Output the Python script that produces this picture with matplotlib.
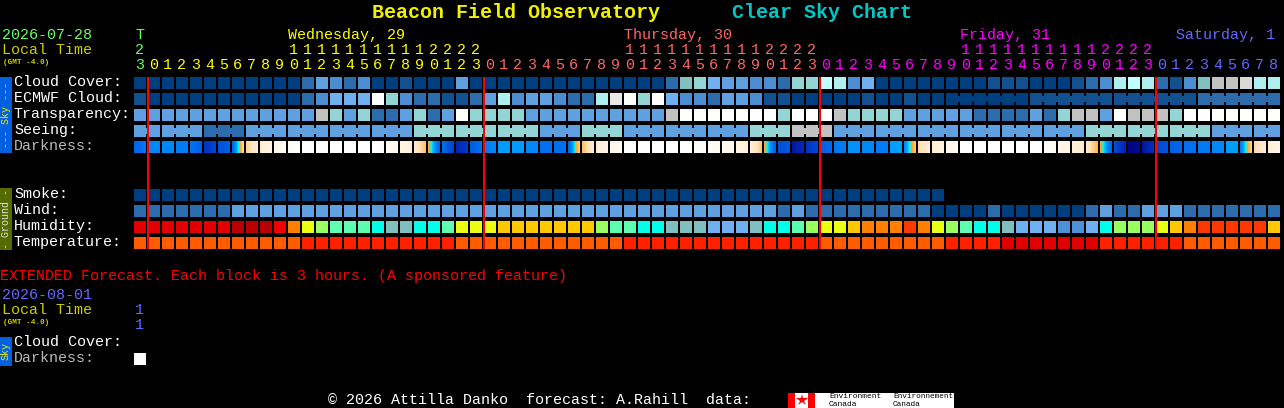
import matplotlib
matplotlib.use("Agg")
import matplotlib.pyplot as plt
import numpy as np
from matplotlib.colors import LinearSegmentedColormap

MONO = ["Liberation Mono", "DejaVu Sans Mono"]

# colour tables, rows below are indexes into these
sky_colors = ["#003f7f", "#13508f", "#2c6cac", "#4c8cd0", "#5fa0e0", "#70b0f0", "#80c0c0",
              "#93d5d5", "#aeeeee", "#bfffff", "#c2c2c2", "#d8d8d8", "#e8e8e8", "#ffffff"]
hum_colors = ["#b80000", "#e00000", "#f00000", "#ff3800", "#ff8000", "#ffc800", "#eaff14",
              "#99ff60", "#5cffb0", "#00ffe8", "#80bfbf", "#70b0f0", "#4d90d8"]
temp_colors = ["#e00000", "#ff2000", "#ff5c00"]

cloud = [0,0,0,0,0,0,0,0,0,0,0,0,2,4,3,2,3,0,0,1,0,
         0,0,4,0,0,0,0,0,0,0,0,0,0,0,0,0,0,2,6,7,5,4,4,3,3,2,7,7,9,8,3,
         5,0,0,0,0,0,0,0,0,1,1,1,0,0,0,1,2,3,8,9,8,2,1,3,6,10,10,11,8,8]
ecmwf = [1,0,0,0,0,0,0,0,0,0,0,0,2,3,5,5,5,13,7,3,2,
         2,1,1,2,4,8,3,4,4,3,2,2,8,12,13,7,13,5,3,3,2,4,4,3,1,1,0,0,0,0,0,
         1,0,0,1,0,0,0,0,0,0,0,0,1,1,1,1,1,1,1,1,1,1,1,1,2,2,2,2,2,2]
transparency = [4,4,4,4,4,4,4,4,4,4,4,4,4,10,7,4,7,2,2,4,7,
                2,4,13,7,7,7,7,4,4,4,4,4,4,4,4,4,4,10,13,13,13,13,13,13,13,7,13,13,13,10,7,
                7,7,7,4,4,4,4,4,2,2,2,2,4,2,7,10,10,4,13,10,10,10,7,13,13,13,13,13,13,13]
seeing = [4,4,4,4,4,2,2,2,4,4,4,4,4,4,4,4,4,4,4,4,7,7,7,7,7,7,7,7,7,4,4,4,7,7,7,4,4,4,
          4,4,4,4,4,4,7,7,7,10,10,10,4,4,4,4,4,4,4,4,4,4,4,4,4,4,4,4,4,4,
          7,7,7,7,7,7,7,7,7,4,4,4,4,4]
smoke = [0] * 58
wind = [2,2,2,2,2,2,2,4,4,4,4,4,4,4,4,4,4,4,4,4,4,
        4,4,4,4,4,4,4,4,4,4,4,4,4,4,4,4,4,4,4,4,4,4,4,4,4,2,4,2,2,2,2,
        2,2,2,2,2,0,0,0,0,2,0,0,0,0,0,0,2,4,2,2,4,4,4,2,2,2,2,2,2,2]
humidity = [1,1,1,1,1,1,1,0,0,0,2,4,6,7,8,8,8,9,10,10,9,
            9,8,6,6,6,5,5,5,5,5,5,5,7,8,8,9,9,10,10,10,11,11,11,10,9,9,8,7,6,6,5,
            4,4,4,3,4,6,7,8,9,9,10,11,11,11,12,12,11,9,7,7,7,6,5,4,3,3,3,3,3,5]
temperature = [2]*12 + [1]*11 + [2]*12 + [1]*14 + [2]*9 + [1]*4 + [0]*7 + [1]*6 + [2]*7

dark_left = [.42,.5,.5,.48,.46,.26,.36,.42,.76,.87,.93,.98,1,1,1,1,1,1,.97,.93,.85,
             .68,.45,.2,.38,.47,.54,.54,.5,.45,.45,.42,.72,.87,.93,1,1,1,1,1,.99,.98,.96,.92,.88,
             .68,.35,.12,.26,.4,.46,.52,.5,.48,.55,.5,.78,.87,.93,1,1,1,1,1,1,.99,.95,.9,.84,
             .68,.35,.02,.12,.33,.4,.45,.47,.5,.55,.48,.78,.88]
dark_right = [.47,.5,.5,.48,.40,.32,.4,.78,.86,.92,.97,1,1,1,1,1,1,.98,.94,.88,.72,
              .42,.3,.28,.46,.5,.54,.54,.5,.45,.45,.76,.86,.93,.98,1,1,1,1,1,.98,.96,.93,.88,.74,
              .4,.38,.22,.33,.43,.48,.52,.5,.48,.55,.74,.86,.92,.98,1,1,1,1,1,1,.97,.91,.85,.7,
              .42,.2,.05,.25,.36,.42,.45,.47,.5,.55,.76,.87,.93]
dark_stops = [(0, "#000080"), (.25, "#0030c0"), (.45, "#0070f0"), (.55, "#00a0ff"),
              (.62, "#00ffff"), (.66, "#ffa020"), (.8, "#ffe4bc"), (1, "#ffffff")]

# (first column, last column) of blocks joined by a bridge
seeing_groups = [(0, 1)] + [(i, i + 2) for i in range(2, 80, 3)] + [(80, 81)]
ecmwf_groups = [(58, 63), (64, 69), (70, 75), (76, 81)]

hours = [3] + list(range(24)) * 3 + list(range(9))
tens_labels = [1] * 10 + [2] * 4
now_lines = [147, 483, 819, 1155]

day_color = {"wed": "#ffff00", "thu": "#ff6666", "fri": "#ff00ff", "sat": "#6666ff"}
GREEN = "#66ff66"
LOCAL = "#cccc00"

X0, STEP, SIZE = 134, 14, 12


def draw_row(ax, codes, colors, top):
    xs = [X0 + STEP * i for i in range(len(codes))]
    ax.bar(xs, [SIZE] * len(codes), width=SIZE, bottom=top, align="edge",
           color=[colors[c] for c in codes], linewidth=0)


def draw_bridges(ax, codes, colors, top, groups):
    for first, last in groups:
        for i in range(first, last):
            ax.bar(X0 + STEP * i + SIZE, 6, width=2, bottom=top + 3, align="edge",
                   color=colors[codes[i]], linewidth=0)


def txt(ax, x, y, s, color="#ffffff", size=10.8, **kw):
    kw.setdefault("family", MONO)
    ax.text(x, y, s, color=color, fontsize=size, va="center", ha=kw.pop("ha", "left"), **kw)


fig = plt.figure(figsize=(12.84, 4.08), dpi=100, facecolor="black")
ax = fig.add_axes([0, 0, 1, 1])
ax.set_facecolor("black")
ax.axis("off")

txt(ax, 372, 12, "Beacon Field Observatory", "#f0f000", 14.4, weight="bold")
txt(ax, 732, 12, "Clear Sky Chart", "#00c8c8", 14.4, weight="bold")

txt(ax, 2, 35, "2026-07-28", GREEN)
txt(ax, 2, 50, "Local Time", LOCAL)
txt(ax, 3, 62, "(GMT -4.0)", LOCAL, 5.6, weight="bold")
txt(ax, 135, 35, "T", GREEN)
txt(ax, 135, 50, "2", GREEN)
txt(ax, 288, 35, "Wednesday, 29", day_color["wed"])
txt(ax, 624, 35, "Thursday, 30", day_color["thu"])
txt(ax, 960, 35, "Friday, 31", day_color["fri"])
txt(ax, 1176, 35, "Saturday, 1", day_color["sat"])

# hour header
for i, h in enumerate(hours):
    if i == 0:
        c = GREEN
    elif i <= 24:
        c = day_color["wed"]
    elif i <= 48:
        c = day_color["thu"]
    elif i <= 72:
        c = day_color["fri"]
    else:
        c = day_color["sat"]
    txt(ax, X0 + STEP * i + 5.5, 65, str(h % 10), c, ha="center")
for start, c in [(11, "wed"), (35, "thu"), (59, "fri")]:
    for k, t in enumerate(tens_labels):
        txt(ax, X0 + STEP * (start + k) + 5.5, 50, str(t), day_color[c], ha="center")

# sky rows
draw_row(ax, cloud, sky_colors, 77)
draw_row(ax, ecmwf, sky_colors, 93)
draw_bridges(ax, ecmwf, sky_colors, 93, ecmwf_groups)
draw_row(ax, transparency, sky_colors, 109)
draw_row(ax, seeing, sky_colors, 125)
draw_bridges(ax, seeing, sky_colors, 125, seeing_groups)

dark_cmap = LinearSegmentedColormap.from_list("dark", dark_stops)
for i, (a, b) in enumerate(zip(dark_left, dark_right)):
    left = X0 + STEP * i
    ax.imshow(np.linspace(a, b, SIZE).reshape(1, -1), cmap=dark_cmap, vmin=0, vmax=1,
              interpolation="nearest", extent=(left, left + SIZE, 153, 141), aspect="auto")

# ground rows
draw_row(ax, smoke, sky_colors, 189)
draw_row(ax, wind, sky_colors, 205)
draw_row(ax, humidity, hum_colors, 221)
draw_row(ax, temperature, temp_colors, 237)

for x in now_lines:
    ax.bar(x, 172, width=2, bottom=77, align="edge", color="#ff0000", linewidth=0, zorder=3)

for y, s, c in [(82, "Cloud Cover:", "#ffffff"), (98, "ECMWF Cloud:", "#ffffff"),
                (114, "Transparency:", "#ffffff"), (130, "Seeing:", "#ffffff"),
                (146, "Darkness:", "#b8b8b8"), (194, "Smoke:", "#ffffff"),
                (210, "Wind:", "#ffffff"), (226, "Humidity:", "#ffffff"),
                (242, "Temperature:", "#ffffff")]:
    txt(ax, 14, y, s, c)

# side bars
ax.bar(0, 76, width=12, bottom=77, align="edge", color="#0060e0", linewidth=0)
ax.bar(0, 62, width=12, bottom=188, align="edge", color="#556b00", linewidth=0)
ax.text(6, 115, "--- Sky ---", color="#f0f000", fontsize=7.2, rotation=90,
        ha="center", va="center", family=MONO)
ax.text(6, 219, "- Ground -", color="#e0e0e0", fontsize=7.2, rotation=90,
        ha="center", va="center", family=MONO)

# extended forecast
txt(ax, 0, 276, "EXTENDED Forecast. Each block is 3 hours. (A sponsored feature)", "#ff0000")
txt(ax, 2, 295, "2026-08-01", day_color["sat"])
txt(ax, 2, 310, "Local Time", LOCAL)
txt(ax, 3, 322, "(GMT -4.0)", LOCAL, 5.6, weight="bold")
txt(ax, 135, 310, "1", day_color["sat"])
txt(ax, 135, 325, "1", day_color["sat"])
txt(ax, 14, 342, "Cloud Cover:")
txt(ax, 14, 358, "Darkness:", "#b8b8b8")
ax.bar(0, 29, width=12, bottom=337, align="edge", color="#0060e0", linewidth=0)
ax.text(6, 351, "Sky", color="#f0f000", fontsize=7.2, rotation=90, ha="center", va="center", family=MONO)
ax.bar(X0, 12, width=SIZE, bottom=353, align="edge", color="#ffffff", linewidth=0)

# footer
txt(ax, 328, 400, "\u00a9 2026 Attilla Danko  forecast: A.Rahill  data:")
ax.bar(788, 15, width=166, bottom=393, align="edge", color="#ffffff", linewidth=0)
ax.bar([788, 808], [15, 15], width=7, bottom=393, align="edge", color="#ff0000", linewidth=0)
ax.plot([801.5], [400], marker="*", ms=9, color="#ff0000", mew=0)
txt(ax, 829, 397, "Environment", "#000000", 5.7)
txt(ax, 829, 404.5, "Canada", "#000000", 5.7)
txt(ax, 893, 397, "Environnement", "#000000", 5.6)
txt(ax, 893, 404.5, "Canada", "#000000", 5.6)

ax.set_xlim(0, 1284)
ax.set_ylim(408, 0)
fig.savefig("out.png", dpi=100, facecolor="black")
